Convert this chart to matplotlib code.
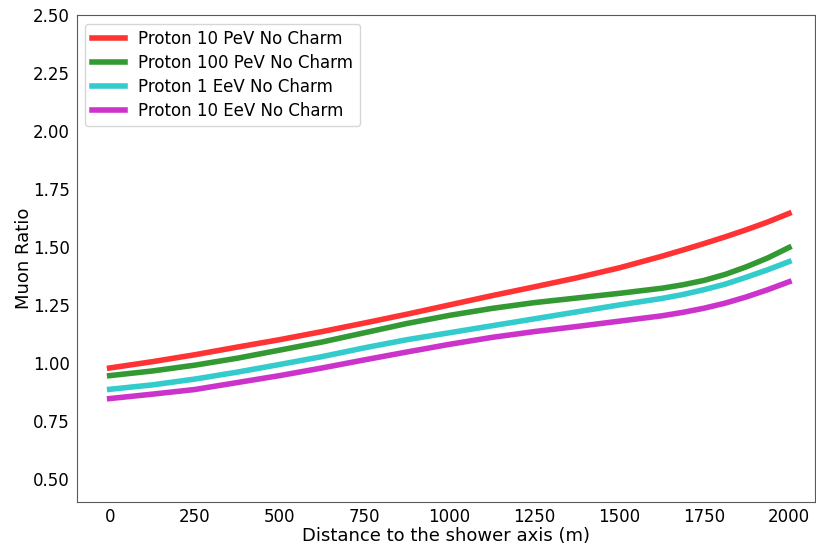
import matplotlib
matplotlib.use("Agg")
import matplotlib.pyplot as plt

# Distance to shower axis (m)
distance = [0, 125, 250, 375, 500, 625, 750, 875, 1000, 1125, 1250,
            1375, 1500, 1625, 1687.5, 1750, 1812.5, 1875, 1937.5, 2000]

# Muon ratio per primary energy (no charm)
ratio_10pev = [0.978, 1.005, 1.035, 1.068, 1.100, 1.135, 1.172, 1.210, 1.250,
               1.290, 1.328, 1.367, 1.410, 1.460, 1.487, 1.515, 1.544, 1.575,
               1.608, 1.645]
ratio_100pev = [0.945, 0.965, 0.990, 1.020, 1.055, 1.090, 1.130, 1.170, 1.205,
                1.235, 1.260, 1.280, 1.300, 1.322, 1.337, 1.356, 1.382, 1.415,
                1.453, 1.498]
ratio_1eev = [0.886, 0.905, 0.930, 0.960, 0.993, 1.027, 1.065, 1.100, 1.130,
              1.160, 1.190, 1.220, 1.250, 1.278, 1.295, 1.316, 1.340, 1.370,
              1.402, 1.437]
ratio_10eev = [0.846, 0.865, 0.885, 0.915, 0.945, 0.978, 1.013, 1.047, 1.080,
               1.110, 1.135, 1.157, 1.180, 1.203, 1.218, 1.236, 1.258, 1.285,
               1.316, 1.350]

labels = ["Proton 10 PeV No Charm", "Proton 100 PeV No Charm",
          "Proton 1 EeV No Charm", "Proton 10 EeV No Charm"]
colors = ["r", "g", "c", "m"]

fig = plt.figure(figsize=(8.16, 5.45), dpi=100)
ax = fig.add_axes([0.094, 0.079, 0.905, 0.893])

for series, label, color in zip([ratio_10pev, ratio_100pev, ratio_1eev, ratio_10eev],
                                labels, colors):
    ax.plot(distance, series, color=color, alpha=0.8, linewidth=4, label=label,
            solid_joinstyle="round")

ax.set_xlim(-97, 2077)
ax.set_ylim(0.4, 2.5)
ax.set_xticks(range(0, 2001, 250))
ax.set_yticks([0.5, 0.75, 1.0, 1.25, 1.5, 1.75, 2.0, 2.25, 2.5])
ax.tick_params(length=0, labelsize=12)
ax.tick_params(axis="x", pad=4)
ax.tick_params(axis="y", pad=5)
for spine in ax.spines.values():
    spine.set_color("0.35")

ax.set_xlabel("Distance to the shower axis (m)", fontsize=13, labelpad=1)
ax.set_ylabel("Muon Ratio", fontsize=13, labelpad=0)
ax.legend(loc="upper left", fontsize=12, handlelength=2.0, labelspacing=0.35)

fig.savefig("out.png", dpi=100)
